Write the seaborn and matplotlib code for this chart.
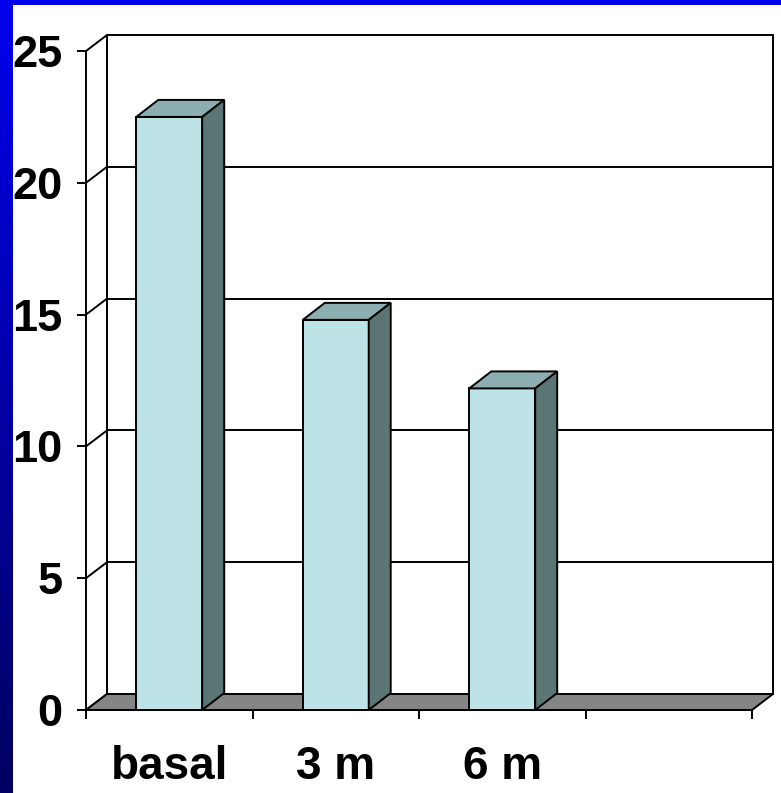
import numpy as np
import pandas as pd
import matplotlib
matplotlib.use("Agg")
import matplotlib.pyplot as plt
from matplotlib.patches import Polygon
import seaborn as sns

# Chart data
categories = ["basal", "3 m", "6 m"]
values = [22.5, 14.8, 12.2]
y_ticks = [0, 5, 10, 15, 20, 25]

sns.set_style("white")
plt.rcParams["font.family"] = ["Liberation Sans", "DejaVu Sans"]

W, H, DPI = 781, 793, 100
fig = plt.figure(figsize=(W / DPI, H / DPI), dpi=DPI)
fig.patch.set_facecolor("white")

# Blue slide frame: gradient strip on the left, solid strip on top
strip = fig.add_axes([0, 0, 13 / W, 1])
grad = np.linspace(0, 1, 256)[:, None]
cols = np.zeros((256, 1, 3))
cols[:, 0, 2] = 0.93 - 0.55 * grad[:, 0]
strip.imshow(cols, aspect="auto", extent=[0, 1, 0, 1], origin="upper")
strip.axis("off")
top = fig.add_axes([0, 1 - 5 / H, 1, 5 / H])
top.set_facecolor("#0000EE")
top.set_xticks([]); top.set_yticks([])
for s in top.spines.values():
    s.set_visible(False)

# Plot axes: x in category slots, y in value units
x0_px, x1_px = 86, 773
ytop_px, y0_px = 34, 710
ax = fig.add_axes([x0_px / W, (H - y0_px) / H, (x1_px - x0_px) / W, (y0_px - ytop_px) / H])
ax.set_facecolor("none")

slot_px = 166.5
unit_px = 26.36
xmin = -0.5
xmax = xmin + (x1_px - x0_px) / slot_px
ymax = (y0_px - ytop_px) / unit_px

# depth offsets (data units) for walls and bars
dxw, dyw = 21 / slot_px, 16 / unit_px
dxb, dyb = 22 / slot_px, 17 / unit_px

df = pd.DataFrame({"period": categories, "value": values})
front = "#BEE3E6"
topc = "#8DAEB0"
side = "#5B7575"
lw = 1.4

sns.barplot(data=df, x="period", y="value", color=front, saturation=1,
            width=0.396, edgecolor="black", linewidth=lw, ax=ax, zorder=4)

ax.set_xlim(xmin, xmax)
ax.set_ylim(0, ymax)

# back wall
xb = xmin + dxw
n_slots = 4
xr = xmin + n_slots
wall = Polygon([(xb, dyw), (xr + dxw, dyw), (xr + dxw, y_ticks[-1] + dyw), (xb, y_ticks[-1] + dyw)],
               closed=True, facecolor="white", edgecolor="black", lw=lw, zorder=0.5, clip_on=False)
ax.add_patch(wall)
for v in y_ticks[1:-1]:
    ax.plot([xb, xr + dxw], [v + dyw, v + dyw], color="black", lw=lw, zorder=0.6, clip_on=False)
# side wall diagonals
for v in y_ticks:
    ax.plot([xmin, xb], [v, v + dyw], color="black", lw=lw, zorder=0.6, clip_on=False)
# floor
floor = Polygon([(xmin, 0), (xr, 0), (xr + dxw, dyw), (xb, dyw)], closed=True,
                facecolor="#858585", edgecolor="black", lw=lw, zorder=1, clip_on=False)
ax.add_patch(floor)

# 3D tops and sides of the bars
for p in list(ax.patches):
    if p in (wall, floor):
        continue
    bx, bw, bh = p.get_x(), p.get_width(), p.get_height()
    ax.add_patch(Polygon([(bx, bh), (bx + bw, bh), (bx + bw + dxb, bh + dyb), (bx + dxb, bh + dyb)],
                         closed=True, facecolor=topc, edgecolor="black", lw=lw, zorder=4, clip_on=False))
    ax.add_patch(Polygon([(bx + bw, 0), (bx + bw + dxb, dyb), (bx + bw + dxb, bh + dyb), (bx + bw, bh)],
                         closed=True, facecolor=side, edgecolor="black", lw=lw, zorder=4, clip_on=False))

# axes lines and ticks
for s in ["top", "right"]:
    ax.spines[s].set_visible(False)
ax.spines["left"].set_bounds(0, y_ticks[-1])
ax.spines["bottom"].set_bounds(xmin, xr)
for s in ["left", "bottom"]:
    ax.spines[s].set_color("black")
    ax.spines[s].set_linewidth(lw)
    ax.spines[s].set_zorder(5)

ax.set_yticks(y_ticks)
ax.set_yticklabels([str(t) for t in y_ticks], fontsize=32.5, fontweight="bold", color="black")
ax.tick_params(axis="y", direction="out", length=6.5, width=lw, pad=10.5, color="black", left=True)

ax.set_xticks(range(len(categories)))
ax.set_xticklabels(categories, fontsize=33, fontweight="bold", color="black")
ax.set_xticks(np.arange(xmin, xr + 0.01, 1.0), minor=True)
ax.tick_params(axis="x", which="major", length=0, pad=25)
ax.tick_params(axis="x", which="minor", direction="out", length=6.5, width=lw, color="black", bottom=True)
ax.set_xlabel("")
ax.set_ylabel("")
ax.grid(False)

fig.savefig("out.png", dpi=DPI, facecolor="white")
